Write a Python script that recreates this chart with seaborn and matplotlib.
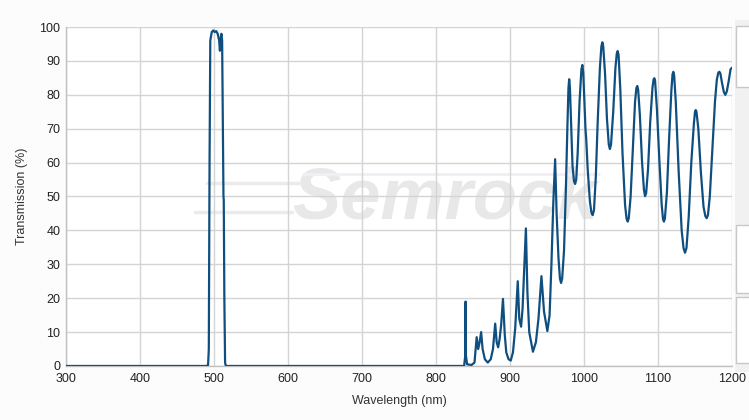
import matplotlib
matplotlib.use("Agg")
import matplotlib.pyplot as plt
import seaborn as sns
import pandas as pd
from matplotlib.patches import Rectangle

# transmission spectrum, as (nm, %) pairs
blocked_uv = [(300, 0), (490, 0)]

passband = [
    (492, 0.3), (493, 5), (494, 60), (495, 96), (497, 98.5), (499, 99),
    (501, 98.5), (503, 98.8), (505, 98), (507, 96), (508, 93), (509, 96.5),
    (510, 98), (511, 96), (512, 70), (512.8, 50), (513.2, 49), (514, 20),
    (515, 1), (516, 0),
]

blocked_mid = [(838, 0)]

nir_low = [
    (839.5, 3), (840, 19), (840.5, 3), (842, 0.5), (848, 0.3), (852, 1),
    (855, 8.5), (857, 5), (859, 7), (861, 10), (863, 5), (866, 2), (870, 1),
    (874, 2), (877, 5), (880, 12.5), (882, 7), (884, 5.5), (886, 8), (888, 12),
    (890.5, 19.8), (893, 9), (895, 4), (898, 2), (901, 1.6), (904, 4),
    (907, 11), (910.5, 25), (912.5, 14), (915, 11.6), (917, 17), (919.5, 30),
    (921.5, 40.6), (923.5, 22), (926, 10), (931, 4.2), (935, 7), (938.5, 14),
    (942.5, 26.5), (946, 16), (950.5, 10.3), (953.5, 15), (956, 30),
    (958.5, 48), (961, 61), (963, 45), (965.5, 32),
]

nir_high = [
    (967.5, 25.8), (969, 24.5), (970.5, 25.8), (973, 34), (975.5, 52),
    (977.5, 70), (979, 82), (980, 84.6), (981, 82), (982.5, 72), (984.5, 59),
    (986.5, 54.5), (988, 53.7), (989.5, 55), (991.5, 63), (994, 78),
    (996.5, 87.5), (997.8, 88.8), (999, 86.5), (1000.5, 78), (1002, 70),
    (1003, 67), (1005, 58), (1008, 48.5), (1010, 45.3), (1011.7, 44.5),
    (1013.5, 46), (1016, 56), (1018.5, 72), (1021.5, 88), (1023.5, 94.3),
    (1024.8, 95.5), (1026, 94.3), (1028.5, 86), (1031, 73), (1033.5, 65.3),
    (1035, 64), (1036.5, 65.3), (1039.5, 75), (1042.5, 88), (1044.3, 92.2),
    (1045.5, 92.9), (1046.7, 91.8), (1049, 82), (1052, 63), (1055.5, 47.5),
    (1057.5, 43.5), (1059, 42.6), (1060.5, 43.6), (1063, 50), (1066, 64),
    (1069, 78), (1070.8, 82), (1072, 82.6), (1073.2, 81.5), (1075.5, 74),
    (1078.5, 60), (1081, 52), (1082.5, 50.1), (1084, 51), (1086.5, 58),
    (1089.5, 72), (1092.5, 82), (1094, 84.5), (1095, 84.9), (1096, 84.3),
    (1098.5, 76), (1102, 60), (1105, 47.5), (1106.8, 43.3), (1108, 42.6),
    (1109.3, 43.5), (1112, 51), (1115, 67), (1118, 81), (1119.6, 86),
    (1120.7, 86.8), (1121.8, 85.8), (1124, 78), (1128, 57), (1132, 40),
    (1134.5, 34.8), (1136.5, 33.4), (1138.5, 34.8), (1141.5, 44), (1145, 60),
    (1148.5, 71.5), (1150, 75), (1151, 75.5), (1152, 75), (1154.5, 70),
    (1158, 57), (1161.5, 47), (1164, 44.2), (1165.8, 43.6), (1167.5, 44.5),
    (1170, 50), (1173.5, 64), (1177, 78), (1179.5, 84.5), (1181.5, 86.5),
    (1182.9, 86.8), (1184.3, 86.3), (1186.5, 83.5), (1189, 80.8), (1191, 80),
    (1193, 81), (1195.5, 84), (1198, 87.5), (1200, 88),
]

x_ticks = [300, 400, 500, 600, 700, 800, 900, 1000, 1100, 1200]
y_ticks = [0, 10, 20, 30, 40, 50, 60, 70, 80, 90, 100]

df = pd.DataFrame(blocked_uv + passband + blocked_mid + nir_low + nir_high,
                  columns=["Wavelength", "Transmission"])

sns.set_style("whitegrid")
plt.rcParams["font.family"] = ["Liberation Sans", "DejaVu Sans"]

fig = plt.figure(figsize=(7.49, 4.20), dpi=100, facecolor="#fcfcfc")
ax = fig.add_axes([0.0881, 0.1286, 0.8892, 0.8071])
ax.set_facecolor("white")

# watermark
ax.text(812, 49, "Semrock", fontsize=52, fontweight="bold", fontstyle="italic",
        color="#e8e8e8", ha="center", va="center", zorder=0.5)
ax.plot([490, 615], [54, 54], color="#ebebeb", lw=2.5, zorder=0.5)
ax.plot([475, 605], [45.5, 45.5], color="#ebebeb", lw=2.5, zorder=0.5)
ax.plot([620, 1020], [56.5, 56.5], color="#f3eef6", lw=2, zorder=0.5)

sns.lineplot(data=df, x="Wavelength", y="Transmission", ax=ax, sort=False,
             color="#0f4f80", linewidth=1.6, zorder=3)

ax.set_xlim(300, 1200)
ax.set_ylim(0, 100)
ax.set_xticks(x_ticks)
ax.set_yticks(y_ticks)
ax.grid(True, color="#d4d4d4", linewidth=1)
for s in ["top", "right"]:
    ax.spines[s].set_visible(False)
for s in ["left", "bottom"]:
    ax.spines[s].set_color("#c0c0c0")
    ax.spines[s].set_linewidth(1)
ax.tick_params(axis="both", length=0, labelsize=9, labelcolor="#222222")
ax.tick_params(axis="x", pad=5)
ax.tick_params(axis="y", pad=4)
ax.set_xlabel("Wavelength (nm)", fontsize=9, color="#333333", labelpad=7)
ax.set_ylabel("Transmission (%)", fontsize=9, color="#333333", labelpad=8)

# partial legend panel on the right edge
W, H = 749, 420
fig.patches.append(Rectangle((735 / W, 1 - 372 / H), 14 / W, 352 / H,
                             transform=fig.transFigure, facecolor="#f1f1f1",
                             edgecolor="none", zorder=0))
for top, bot in [(26, 87), (225, 293), (297, 363)]:
    fig.patches.append(Rectangle((736 / W, 1 - bot / H), 20 / W, (bot - top) / H,
                                 transform=fig.transFigure, facecolor="white",
                                 edgecolor="#c8c8c8", linewidth=1, zorder=1))

fig.savefig("out.png", dpi=100, facecolor=fig.get_facecolor())
